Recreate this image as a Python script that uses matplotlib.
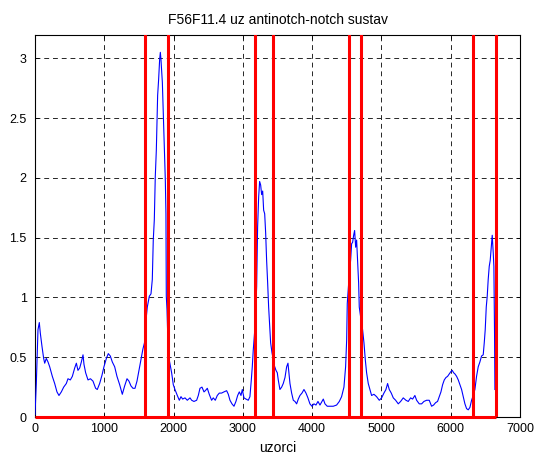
import matplotlib
matplotlib.use("Agg")
import matplotlib.pyplot as plt

plt.rcParams['font.family'] = ['Liberation Sans', 'DejaVu Sans']

# --- data ---
sample_x = [
    0, 19, 43, 62, 77, 101, 125, 140, 163, 188, 212, 250, 284, 317, 346, 380, 414, 452, 476, 510,
    539, 573, 597, 620, 645, 669, 693, 707, 731, 765, 800, 837, 875, 899, 933, 967, 995, 1030, 1058,
    1087, 1116, 1150, 1183, 1222, 1260, 1294, 1328, 1356, 1385, 1414, 1443, 1472, 1501, 1534, 1558,
    1580, 1600, 1621, 1650, 1674, 1693, 1707, 1722, 1736, 1751, 1770, 1784, 1799, 1809, 1818, 1828,
    1838, 1852, 1866, 1881, 1890, 1895, 1905, 1920, 1940, 1972, 1996, 2020, 2054, 2083, 2107, 2131,
    2165, 2198, 2237, 2261, 2294, 2333, 2357, 2381, 2410, 2439, 2458, 2487, 2515, 2549, 2573, 2602,
    2631, 2660, 2693, 2727, 2766, 2790, 2814, 2843, 2872, 2900, 2925, 2949, 2973, 2992, 3016, 3045,
    3078, 3102, 3122, 3136, 3150, 3175, 3199, 3213, 3228, 3242, 3257, 3271, 3286, 3300, 3315, 3329,
    3343, 3358, 3372, 3387, 3401, 3420, 3454, 3478, 3497, 3511, 3535, 3560, 3583, 3608, 3632, 3651,
    3665, 3680, 3704, 3728, 3752, 3776, 3800, 3824, 3853, 3882, 3911, 3939, 3968, 3997, 4026, 4055,
    4084, 4113, 4141, 4161, 4185, 4218, 4257, 4305, 4353, 4392, 4425, 4459, 4483, 4498, 4507, 4531,
    4555, 4570, 4584, 4599, 4613, 4628, 4642, 4656, 4671, 4680, 4704, 4728, 4748, 4767, 4786, 4810,
    4834, 4858, 4892, 4930, 4969, 5003, 5036, 5065, 5089, 5113, 5142, 5171, 5205, 5243, 5277, 5315,
    5354, 5387, 5421, 5450, 5483, 5508, 5546, 5580, 5613, 5652, 5690, 5724, 5753, 5782, 5810, 5834,
    5859, 5883, 5907, 5931, 5955, 5979, 6003, 6022, 6042, 6061, 6085, 6109, 6133, 6157, 6181, 6205,
    6229, 6253, 6277, 6301, 6325, 6349, 6373, 6397, 6421, 6445, 6469, 6484, 6498, 6513, 6527, 6541,
    6556, 6570, 6585, 6599, 6614, 6623, 6633, 6638,
]
signal_y = [
    0.02, 0.28, 0.73, 0.79, 0.70, 0.59, 0.49, 0.45, 0.49, 0.46, 0.42, 0.34, 0.28, 0.21, 0.18, 0.21,
    0.25, 0.28, 0.32, 0.31, 0.34, 0.41, 0.45, 0.39, 0.41, 0.46, 0.52, 0.44, 0.37, 0.31, 0.32, 0.30,
    0.24, 0.23, 0.28, 0.35, 0.42, 0.49, 0.53, 0.51, 0.46, 0.42, 0.34, 0.27, 0.19, 0.26, 0.32, 0.30,
    0.26, 0.24, 0.24, 0.30, 0.39, 0.49, 0.57, 0.62, 0.80, 0.92, 1.01, 1.03, 1.15, 1.48, 1.65, 2.01,
    2.23, 2.69, 2.82, 2.99, 3.05, 2.99, 2.90, 2.80, 2.53, 2.23, 1.98, 1.70, 1.01, 0.90, 0.60, 0.47,
    0.37, 0.27, 0.23, 0.18, 0.14, 0.17, 0.15, 0.16, 0.14, 0.16, 0.14, 0.13, 0.14, 0.18, 0.24, 0.25,
    0.21, 0.22, 0.24, 0.19, 0.14, 0.16, 0.14, 0.18, 0.20, 0.20, 0.21, 0.22, 0.19, 0.14, 0.11, 0.09,
    0.13, 0.18, 0.21, 0.18, 0.23, 0.16, 0.15, 0.14, 0.17, 0.31, 0.42, 0.56, 0.75, 1.09, 1.59, 1.84,
    1.97, 1.94, 1.86, 1.89, 1.73, 1.70, 1.54, 1.31, 1.12, 0.92, 0.76, 0.62, 0.54, 0.43, 0.39, 0.37,
    0.31, 0.23, 0.25, 0.28, 0.33, 0.42, 0.45, 0.37, 0.28, 0.20, 0.14, 0.13, 0.11, 0.15, 0.18, 0.20,
    0.23, 0.20, 0.16, 0.11, 0.09, 0.11, 0.10, 0.13, 0.10, 0.13, 0.15, 0.11, 0.09, 0.09, 0.09, 0.10,
    0.13, 0.17, 0.25, 0.42, 0.64, 0.95, 1.15, 1.31, 1.45, 1.46, 1.52, 1.56, 1.42, 1.48, 1.31, 1.12,
    0.92, 0.82, 0.73, 0.62, 0.48, 0.37, 0.28, 0.23, 0.18, 0.19, 0.17, 0.14, 0.16, 0.20, 0.23, 0.28,
    0.23, 0.20, 0.16, 0.14, 0.11, 0.13, 0.16, 0.14, 0.13, 0.16, 0.15, 0.18, 0.14, 0.11, 0.11, 0.13,
    0.14, 0.14, 0.09, 0.10, 0.12, 0.13, 0.17, 0.21, 0.27, 0.31, 0.33, 0.34, 0.36, 0.38, 0.39, 0.37,
    0.36, 0.34, 0.31, 0.27, 0.23, 0.17, 0.11, 0.07, 0.06, 0.08, 0.14, 0.18, 0.23, 0.34, 0.42, 0.46,
    0.51, 0.52, 0.62, 0.73, 0.92, 1.01, 1.15, 1.26, 1.31, 1.42, 1.52, 1.37, 1.26, 0.67, 0.23,
]
marker_x = [1587, 1915, 3179, 3430, 4531, 4710, 6325, 6655]
x_ticks = [0, 1000, 2000, 3000, 4000, 5000, 6000, 7000]
y_ticks = [0, 0.5, 1, 1.5, 2, 2.5, 3]
title_text = "F56F11.4 uz antinotch-notch sustav"
xlabel_text = "uzorci"

fig = plt.figure(figsize=(5.39, 4.55), dpi=100)
ax = fig.add_axes([35 / 539, 1 - 417 / 455, (520 - 35) / 539, (417 - 35) / 455])

ax.set_xlim(0, 7000)
ax.set_ylim(0, 3.195)
ax.set_xticks(x_ticks)
ax.set_yticks(y_ticks)
ax.set_xticklabels([str(t) for t in x_ticks])
ax.set_yticklabels(['0', '0.5', '1', '1.5', '2', '2.5', '3'])

ax.grid(True, color='0.15', linestyle=(0, (5, 4)), linewidth=0.7)
ax.set_axisbelow(True)

ax.plot(sample_x, signal_y, color=(0, 0, 1), linewidth=0.8, zorder=3)

for mx in marker_x:
    ax.axvline(mx, color=(1, 0, 0), linewidth=2.2, zorder=4)
ax.plot([0, marker_x[-1]], [0, 0], color=(1, 0, 0), linewidth=2.2, zorder=5, clip_on=False,
        solid_capstyle='butt')

ax.tick_params(direction='in', top=True, right=True, labelsize=9, length=3, width=0.6,
               pad=4)
ax.tick_params(axis='y', pad=6)
for s in ax.spines.values():
    s.set_linewidth(0.8)
    s.set_color('black')

ax.set_title(title_text, fontsize=10, pad=8)
ax.set_xlabel(xlabel_text, fontsize=10, labelpad=5)

fig.savefig("out.png", dpi=100)
